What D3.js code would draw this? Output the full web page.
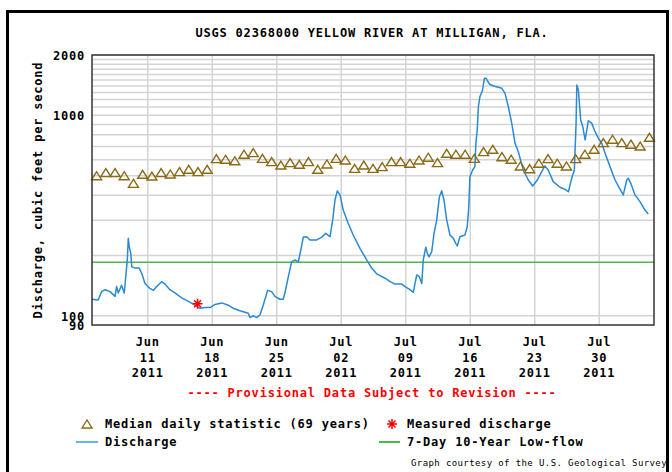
<!DOCTYPE html>
<html>
<head>
<meta charset="utf-8">
<script src="https://cdn.jsdelivr.net/npm/d3@7"></script>
<style>
  body { margin: 0; background: #fff; }
  text { font-family: 'DejaVu Sans Mono', 'Liberation Mono', monospace; font-weight: bold; font-size: 12px; letter-spacing: 0.8px; fill: #000; }
  .credit { font-size: 9px; font-weight: normal; letter-spacing: 0.4px; }
</style>
</head>
<body>
<svg width="672" height="472"></svg>
<script>
// period shown on the graph
const startDate = '2011-06-05';
const endDate = '2011-08-05';
const tickDates = ['2011-06-11', '2011-06-18', '2011-06-25', '2011-07-02', '2011-07-09', '2011-07-16', '2011-07-23', '2011-07-30'];
const yTickValues = [90, 100, 1000, 2000];

// median daily statistic, one per day from Jun 5
const medianValues = [500, 518, 518, 500, 458, 508, 498, 518, 510, 524,
  538, 524, 538, 608, 604, 594, 640, 652, 610, 588,
  565, 581, 570, 588, 538, 572, 610, 599, 544, 565,
  544, 555, 588, 588, 577, 599, 618, 581, 647, 640,
  640, 610, 659, 677, 622, 604, 559, 542, 577, 608,
  577, 559, 608, 640, 677, 731, 760, 731, 718, 703,
  777];

// discharge (cfs)
const dischargeTimes = ['06-05 00:00', '06-05 16:00', '06-06 01:00', '06-06 10:00', '06-06 23:00', '06-07 12:00', '06-07 16:00', '06-07 20:30', '06-08 05:00', '06-08 12:00',
  '06-08 16:00', '06-08 20:00', '06-08 22:30', '06-09 01:00', '06-09 05:00', '06-09 07:30', '06-09 16:00', '06-10 03:00', '06-10 09:30', '06-10 18:00',
  '06-11 07:00', '06-11 16:00', '06-12 00:30', '06-12 13:30', '06-12 22:00', '06-13 11:00', '06-14 00:00', '06-14 17:30', '06-15 11:00', '06-16 04:30',
  '06-16 17:30', '06-17 06:30', '06-17 19:30', '06-18 08:30', '06-19 02:00', '06-19 19:00', '06-20 08:00', '06-21 01:30', '06-21 23:00', '06-22 03:30',
  '06-22 12:00', '06-22 21:00', '06-23 05:30', '06-23 14:00', '06-24 01:30', '06-24 12:00', '06-24 20:30', '06-25 09:30', '06-25 18:00', '06-25 22:30',
  '06-26 07:30', '06-26 16:00', '06-27 01:00', '06-27 09:30', '06-27 16:00', '06-27 22:30', '06-28 07:30', '06-28 16:00', '06-29 09:30', '06-29 22:30',
  '06-30 09:00', '06-30 20:00', '07-01 03:00', '07-01 09:00', '07-01 15:00', '07-01 22:00', '07-02 06:30', '07-02 19:30', '07-03 08:30', '07-04 02:00',
  '07-04 19:30', '07-05 08:30', '07-05 21:30', '07-06 19:30', '07-07 08:30', '07-07 21:30', '07-08 15:00', '07-08 23:30', '07-09 12:30', '07-09 21:00',
  '07-10 01:30', '07-10 06:00', '07-10 12:30', '07-10 19:00', '07-10 23:00', '07-11 05:30', '07-11 09:30', '07-11 14:00', '07-11 21:00', '07-12 03:00',
  '07-12 10:00', '07-12 17:00', '07-12 23:00', '07-13 05:00', '07-13 12:00', '07-13 20:30', '07-14 05:00', '07-14 11:30', '07-14 15:30', '07-14 22:30',
  '07-15 11:30', '07-15 17:30', '07-15 21:30', '07-16 00:30', '07-16 07:30', '07-16 13:30', '07-16 16:00', '07-16 19:30', '07-16 22:30', '07-17 02:30',
  '07-17 09:30', '07-17 14:00', '07-17 18:30', '07-18 03:00', '07-18 13:30', '07-19 02:30', '07-19 11:30', '07-19 20:00', '07-20 04:30', '07-20 13:30',
  '07-20 22:00', '07-21 06:30', '07-21 19:30', '07-22 08:30', '07-22 20:00', '07-23 08:00', '07-23 19:30', '07-24 04:00', '07-24 12:30', '07-25 01:30',
  '07-25 19:00', '07-26 08:00', '07-26 17:00', '07-27 01:30', '07-27 08:30', '07-27 13:00', '07-27 15:00', '07-27 19:00', '07-28 01:00', '07-28 06:30',
  '07-28 12:30', '07-28 17:00', '07-28 21:00', '07-29 06:00', '07-29 14:30', '07-29 23:00', '07-30 08:00', '07-30 16:30', '07-31 05:30', '07-31 18:30',
  '08-01 06:00', '08-01 16:00', '08-02 01:00', '08-02 05:00', '08-02 11:30', '08-02 22:30', '08-03 11:30', '08-04 00:30', '08-04 09:00'];
const dischargeValues = [121, 120, 132, 135, 132, 125, 140, 130, 142, 130,
  157, 190, 244, 221, 205, 176, 173, 173, 163, 145,
  137, 134, 140, 148, 144, 135, 130, 123, 118, 113,
  109, 110, 110, 114, 116, 113, 109, 106, 103, 98,
  100, 98, 101, 113, 134, 132, 125, 121, 121, 130,
  157, 186, 190, 186, 213, 247, 248, 239, 239, 247,
  258, 248, 301, 378, 420, 401, 337, 289, 253, 217,
  190, 173, 162, 154, 148, 144, 144, 140, 135, 131,
  145, 160, 157, 145, 190, 220, 205, 197, 209, 258,
  301, 393, 420, 378, 301, 253, 244, 230, 223, 248,
  253, 278, 350, 494, 534, 555, 725, 845, 1104, 1239,
  1338, 1530, 1530, 1434, 1401, 1380, 1364, 1288, 1104, 912,
  725, 659, 534, 476, 444, 476, 524, 559, 534, 467,
  438, 428, 416, 485, 534, 912, 1417, 1338, 948, 878,
  754, 845, 940, 912, 829, 769, 725, 647, 555, 476,
  433, 401, 476, 485, 458, 401, 371, 337, 322];

const measuredTime = '06-16 11:00';
const measuredValue = 115;
const lowFlowValue = 185;

const svg = d3.select('svg');
const width = +svg.attr('width');
const height = +svg.attr('height');
const margin = {top: 55, right: 18, bottom: 147, left: 92};
const innerWidth = width - margin.left - margin.right;
const innerHeight = height - margin.top - margin.bottom;

const parseDay = d3.timeParse('%Y-%m-%d');
const parseTime = s => d3.timeParse('%Y-%m-%d %H:%M')('2011-' + s);

const medianDays = d3.timeDay.range(parseDay(startDate), parseDay(endDate));
const medianData = medianDays.map((d, i) => ({date: d3.timeHour.offset(d, 12), value: medianValues[i]}));
const dischargeData = dischargeTimes.map((t, i) => ({date: parseTime(t), value: dischargeValues[i]}));

const xScale = d3.scaleTime()
  .domain([parseDay(startDate), parseDay(endDate)])
  .range([0, innerWidth]);

const yScale = d3.scaleLog()
  .domain([90, 2000])
  .range([innerHeight, 0]);

const brown = '#8a6a16';
const blue = '#2a8ad4';
const green = '#4cb847';

// outer frame
svg.append('rect')
  .attr('x', 7.5).attr('y', 11.5)
  .attr('width', 660).attr('height', 475)
  .attr('fill', 'none')
  .attr('stroke', '#000')
  .attr('stroke-width', 3);

svg.append('text')
  .attr('x', 372).attr('y', 37)
  .attr('text-anchor', 'middle')
  .text('USGS 02368000 YELLOW RIVER AT MILLIGAN, FLA.');

const g = svg.append('g')
  .attr('transform', `translate(${margin.left}, ${margin.top})`);

// horizontal grid at every 100 cfs
const gridValues = d3.range(100, 1000, 100).concat(d3.range(1000, 2001, 100));
g.selectAll('.hgrid').data(gridValues)
  .enter().append('line')
    .attr('class', 'hgrid')
    .attr('x1', 0).attr('x2', innerWidth)
    .attr('y1', d => yScale(d)).attr('y2', d => yScale(d))
    .attr('stroke', '#d4d4d4')
    .attr('stroke-width', 1.5);

// x axis: weekly grid lines + 3-line labels
const xAxis = d3.axisBottom(xScale)
  .tickValues(tickDates.map(parseDay))
  .tickSize(-innerHeight)
  .tickPadding(0)
  .tickFormat(d3.timeFormat('%b|%d|%Y'));

const xAxisG = g.append('g')
  .attr('transform', `translate(0, ${innerHeight})`)
  .call(xAxis);
xAxisG.select('.domain').remove();
xAxisG.selectAll('.tick line')
  .attr('stroke', '#d4d4d4')
  .attr('stroke-width', 1.5);
xAxisG.selectAll('.tick text').each(function () {
  const t = d3.select(this);
  const parts = t.text().split('|');
  t.text(null).attr('y', 0).attr('dy', null).attr('fill', '#000');
  parts.forEach((p, i) => {
    t.append('tspan').attr('x', 0).attr('y', 21 + i * 15.5).text(p);
  });
});

const yAxis = d3.axisLeft(yScale)
  .tickValues(yTickValues)
  .tickSize(0)
  .tickPadding(7)
  .tickFormat(d3.format('d'));
const yAxisG = g.append('g').call(yAxis);
yAxisG.select('.domain').remove();
yAxisG.selectAll('.tick text').attr('fill', '#000').attr('dy', '0.36em');

svg.append('text')
  .attr('transform', 'rotate(-90)')
  .attr('x', -(margin.top + innerHeight / 2))
  .attr('y', 42)
  .attr('text-anchor', 'middle')
  .text('Discharge, cubic feet per second');

// 7-day 10-year low flow
g.append('line')
  .attr('x1', 0).attr('x2', innerWidth)
  .attr('y1', yScale(lowFlowValue)).attr('y2', yScale(lowFlowValue))
  .attr('stroke', green)
  .attr('stroke-width', 1.5);

// discharge line
const line = d3.line()
  .x(d => xScale(d.date))
  .y(d => yScale(d.value));
g.append('path')
  .datum(dischargeData)
  .attr('fill', 'none')
  .attr('stroke', blue)
  .attr('stroke-width', 1.5)
  .attr('stroke-linejoin', 'round')
  .attr('d', line);

// median triangles
const triangle = 'M-5,4L0,-4L5,4Z';
g.selectAll('.median').data(medianData)
  .enter().append('path')
    .attr('class', 'median')
    .attr('transform', d => `translate(${xScale(d.date)}, ${yScale(d.value)})`)
    .attr('d', triangle)
    .attr('fill', 'none')
    .attr('stroke', brown)
    .attr('stroke-width', 1.4);

// measured discharge asterisk
const asterisk = 'M-5,0L5,0M0,-5L0,5M-3.5,-3.5L3.5,3.5M-3.5,3.5L3.5,-3.5';
g.append('path')
  .attr('transform', `translate(${xScale(parseTime(measuredTime))}, ${yScale(measuredValue)})`)
  .attr('d', asterisk)
  .attr('stroke', '#ff0000')
  .attr('stroke-width', 1.5);

// plot border
g.append('rect')
  .attr('width', innerWidth).attr('height', innerHeight)
  .attr('fill', 'none')
  .attr('stroke', '#333')
  .attr('stroke-width', 1.5);

svg.append('text')
  .attr('x', 372).attr('y', 397)
  .attr('text-anchor', 'middle')
  .attr('fill', '#ff0000')
  .style('fill', '#ff0000')
  .text('---- Provisional Data Subject to Revision ----');

// legend
const legend = svg.append('g');
legend.append('path')
  .attr('transform', 'translate(87, 424)')
  .attr('d', triangle)
  .attr('fill', 'none')
  .attr('stroke', brown)
  .attr('stroke-width', 1.4);
legend.append('text').attr('x', 105).attr('y', 428).text('Median daily statistic (69 years)');
legend.append('path')
  .attr('transform', 'translate(392, 424)')
  .attr('d', asterisk)
  .attr('stroke', '#ff0000')
  .attr('stroke-width', 1.5);
legend.append('text').attr('x', 407).attr('y', 428).text('Measured discharge');
legend.append('line')
  .attr('x1', 76).attr('x2', 98).attr('y1', 442).attr('y2', 442)
  .attr('stroke', '#6cb4e4').attr('stroke-width', 2);
legend.append('text').attr('x', 105).attr('y', 446).text('Discharge');
legend.append('line')
  .attr('x1', 379).attr('x2', 400).attr('y1', 442).attr('y2', 442)
  .attr('stroke', green).attr('stroke-width', 2);
legend.append('text').attr('x', 407).attr('y', 446).text('7-Day 10-Year Low-flow');

svg.append('text')
  .attr('class', 'credit')
  .attr('x', 411).attr('y', 466)
  .text('Graph courtesy of the U.S. Geological Survey');
</script>
</body>
</html>
